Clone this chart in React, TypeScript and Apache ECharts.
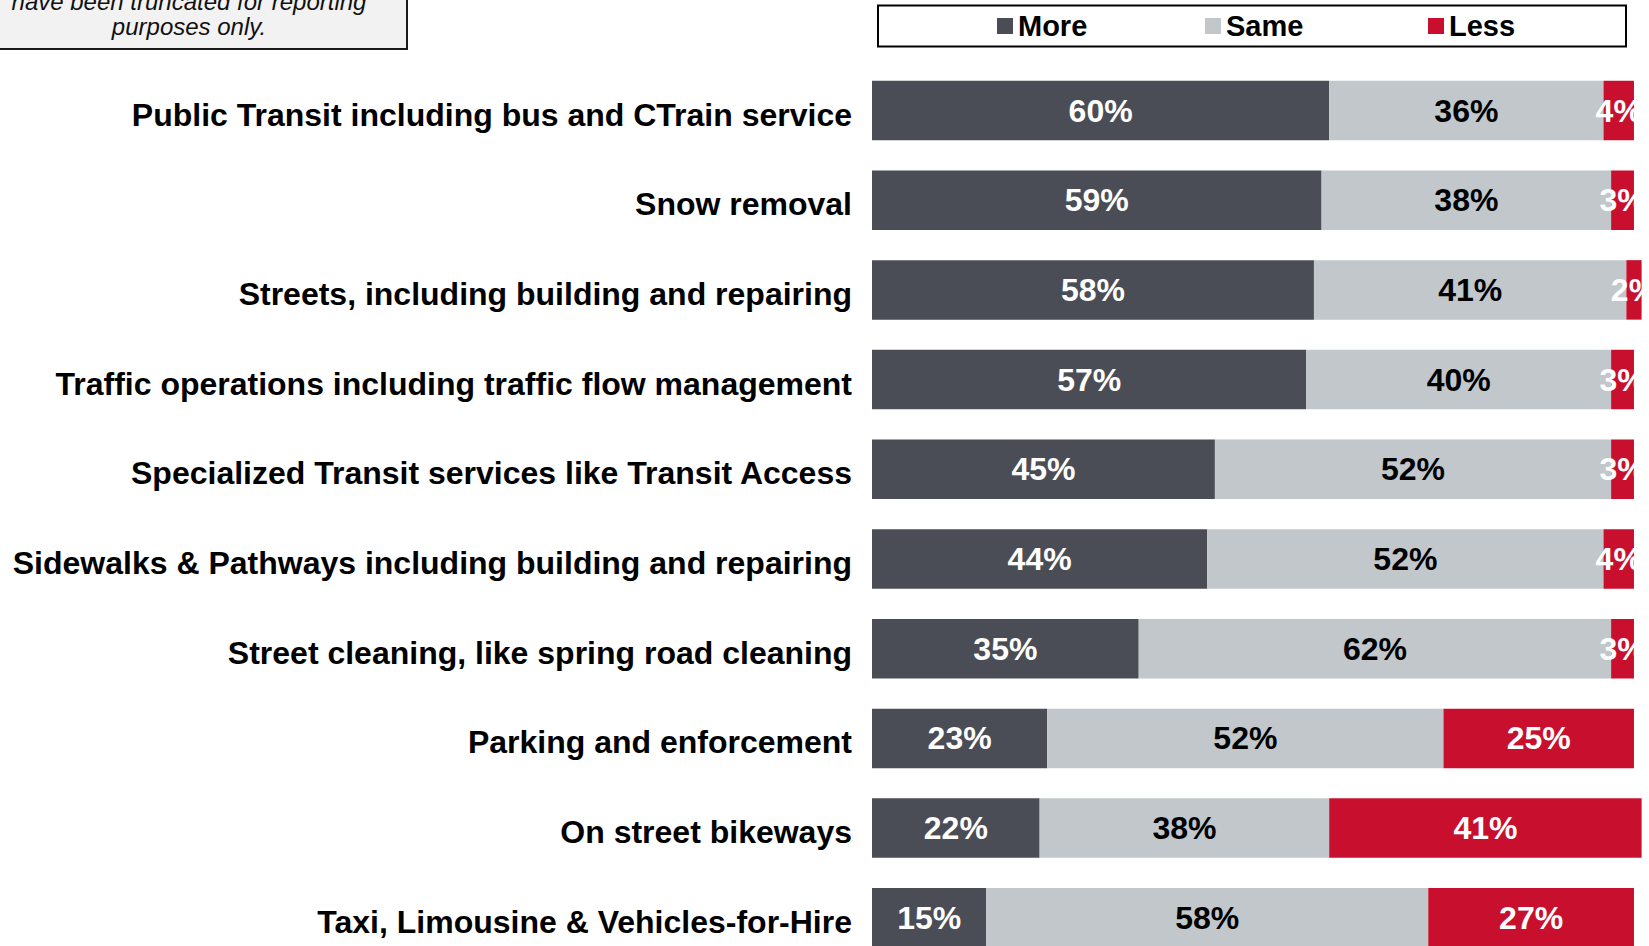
import React, { useEffect, useRef } from "react";
import * as echarts from "echarts";

const categories = [
  "Public Transit including bus and CTrain service",
  "Snow removal",
  "Streets, including building and repairing",
  "Traffic operations including traffic flow management",
  "Specialized Transit services like Transit Access",
  "Sidewalks & Pathways including building and repairing",
  "Street cleaning, like spring road cleaning",
  "Parking and enforcement",
  "On street bikeways",
  "Taxi, Limousine & Vehicles-for-Hire",
];
const moreValues = [60, 59, 58, 57, 45, 44, 35, 23, 22, 15];
const sameValues = [36, 38, 41, 40, 52, 52, 62, 52, 38, 58];
const lessValues = [4, 3, 2, 3, 3, 4, 3, 25, 41, 27];
const seriesNames = ["More", "Same", "Less"];
const noteLines = ["have been truncated for reporting", "purposes only."];

const FONT = "'Liberation Sans', Arial, sans-serif";
const COLORS = ["#4a4d55", "#c1c7ca", "#c8102e"];
const LABEL_COLORS = ["#ffffff", "#000000", "#ffffff"];

export default function App() {
  const ref = useRef<HTMLDivElement>(null);
  useEffect(() => {
    if (!ref.current) return;
    const chart = echarts.init(ref.current, null, { renderer: "svg" });
    const values = [moreValues, sameValues, lessValues];
    const legendLefts = [997, 1205, 1428];
    const option = {
      animation: false,
      grid: {
        left: 872,
        top: 65.65,
        width: 769.6,
        height: 897,
        containLabel: false,
        outerBoundsMode: "none",
      },
      xAxis: { type: "value", min: 0, max: 101, show: false },
      yAxis: {
        type: "category",
        data: categories,
        inverse: true,
        axisLine: { show: false },
        axisTick: { show: false },
        splitLine: { show: false },
        axisLabel: {
          fontSize: 32,
          fontWeight: "bold",
          color: "#000",
          fontFamily: FONT,
          margin: 20,
          verticalAlign: "top",
          lineHeight: 8,
        },
      },
      legend: seriesNames.map((n, i) => ({
        left: legendLefts[i],
        top: 11.5,
        data: [n],
        icon: "rect",
        itemWidth: 16,
        itemHeight: 16,
        padding: 0,
        selectedMode: false,
        textStyle: { fontSize: 29, fontWeight: "bold", color: "#000", fontFamily: FONT, lineHeight: 16 },
      })),
      graphic: [
        {
          type: "rect",
          z: -1,
          shape: { x: 878, y: 5.5, width: 748, height: 41 },
          style: { fill: "#ffffff", stroke: "#000000", lineWidth: 2 },
        },
        {
          type: "rect",
          z: -1,
          shape: { x: -10, y: -60, width: 417, height: 109 },
          style: { fill: "#f2f2f2", stroke: "#1a1a1a", lineWidth: 2 },
        },
        ...noteLines.map((t, i) => ({
          type: "text",
          x: 189,
          y: 1.2 + i * 25.5,
          style: {
            text: t,
            fill: "#111",
            font: `italic 24px ${FONT}`,
            textAlign: "center",
            textVerticalAlign: "middle",
          },
        })),
      ],
      series: seriesNames.map((n, i) => ({
        name: n,
        type: "bar",
        stack: "total",
        barWidth: 59.5,
        data: values[i],
        itemStyle: { color: COLORS[i] },
        label: {
          show: true,
          position: "inside",
          formatter: "{c}%",
          color: LABEL_COLORS[i],
          fontSize: 32,
          fontWeight: "bold",
          fontFamily: FONT,
        },
      })),
    };
    chart.setOption(option as any);
    return () => chart.dispose();
  }, []);
  return (
    <div
      ref={ref}
      style={{ position: "fixed", left: 0, top: 0, width: 1649, height: 946, background: "#fff" }}
    />
  );
}
